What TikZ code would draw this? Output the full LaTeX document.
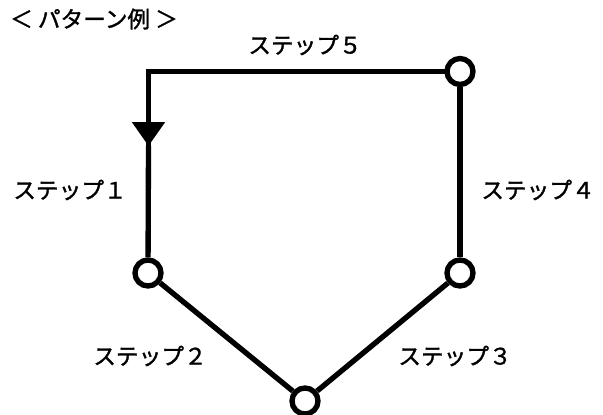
\documentclass[tikz,border=0pt]{standalone}
\usepackage{fontspec}
\newfontfamily\jpfont[FakeBold=1.4]{Noto Sans CJK JP}
\usepackage{tikz}
\usetikzlibrary{arrows.meta,positioning}

\begin{document}
\begin{tikzpicture}[x=0.75pt, y=-0.75pt, font=\jpfont\fontsize{17}{20}\selectfont,
  joint/.style={circle, draw, fill=white, line width=4pt, minimum size=19.5pt, inner sep=0pt},
  route/.style={line width=4pt},
  lbl/.style={inner sep=0pt}]
\useasboundingbox (0,0) rectangle (603,414);
% Title
\node[lbl] (title) at (94,19) {＜ パターン例 ＞};
% Corner and arrow
\coordinate (corner) at (148.5,71.5);
\coordinate (tip) at (148.5,146);
% Route
\node[joint] (p1) at (148,273) {};
\node[joint] (p2) at (305,401) {};
\node[joint] (p3) at (460,273) {};
\node[joint] (p4) at (460,71.5) {};
\draw[route, line cap=rect] (p4) -- (corner) -- (tip);
\draw[route, -{Triangle[width=24pt, length=18pt]}] (corner) -- (tip);
\draw[route] (tip) -- (p1);
\draw[route] (p1) -- (p2);
\draw[route] (p2) -- (p3);
\draw[route] (p3) -- (p4);
% Step labels
\node[lbl] (s5) at (305,45) {ステップ５};
\node[lbl] (s1) at (70,190) {ステップ１};
\node[lbl] (s4) at (538,190) {ステップ４};
\node[lbl] (s2) at (150,356) {ステップ２};
\node[lbl] (s3) at (455,356) {ステップ３};
\end{tikzpicture}
\end{document}
